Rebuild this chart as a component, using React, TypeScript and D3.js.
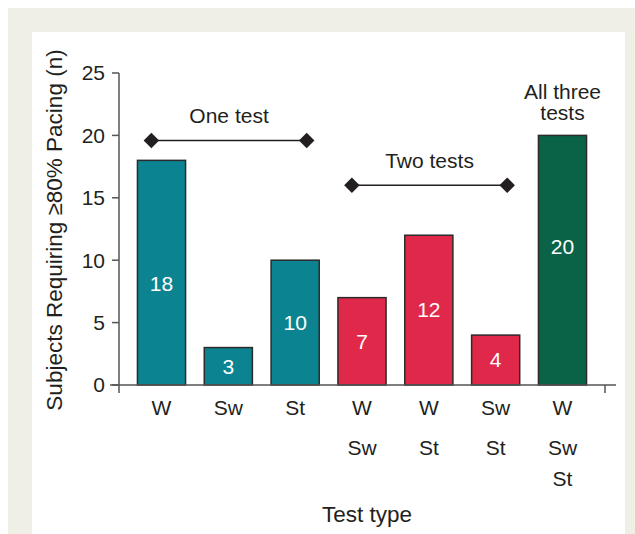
import { useEffect, useRef } from 'react';
import * as d3 from 'd3';

// Test combinations (one line per row of the x tick label)
const categories = ['W', 'Sw', 'St', 'W Sw', 'W St', 'Sw St', 'W Sw St'];
const tickRows = [['W'], ['Sw'], ['St'], ['W', 'Sw'], ['W', 'St'], ['Sw', 'St'], ['W', 'Sw', 'St']];
const subjects = [18, 3, 10, 7, 12, 4, 20];
const groups = ['one', 'one', 'one', 'two', 'two', 'two', 'three'];
// where the count label sits inside each bar (data units)
const labelAt = [8.1, 1.5, 5, 3.5, 6, 2, 11.1];
const yTicks = [0, 5, 10, 15, 20, 25];

const colors: Record<string, string> = {
    one: '#0b8391',
    two: '#e0294a',
    three: '#0b6347',
};

// Group brackets: first / last category and level in data units
const brackets = [
    { label: 'One test', from: 'W', to: 'St', level: 19.6 },
    { label: 'Two tests', from: 'W Sw', to: 'Sw St', level: 16 },
];

export default function App() {
    const svgRef = useRef<SVGSVGElement>(null);

    useEffect(() => {
        if (!svgRef.current) return;
        const width = 635;
        const height = 534;
        const font = "'Liberation Sans', Arial, sans-serif";
        const ink = '#231f20';
        const rowY = [408, 448, 479];

        const svg = d3.select(svgRef.current);
        svg.selectAll('*').remove();
        svg.attr('width', width).attr('height', height);

        // Panel background
        svg.append('rect').attr('x', 8).attr('y', 8).attr('width', width - 8).attr('height', height - 8).attr('fill', '#efefe5');
        svg.append('rect').attr('x', 32).attr('y', 32).attr('width', 593).attr('height', height - 32).attr('fill', '#ffffff');

        const x = d3.scaleBand<string>()
            .domain(categories)
            .range([119, 605])
            .paddingInner(0.28)
            .paddingOuter(0.276);

        const y = d3.scaleLinear().domain([0, 25]).range([385, 73]);

        const g = svg.append('g').attr('font-family', font);

        // Bars
        g.selectAll('rect.bar')
            .data(subjects)
            .enter()
            .append('rect')
            .attr('class', 'bar')
            .attr('x', (_, i) => x(categories[i])!)
            .attr('y', d => y(d))
            .attr('width', x.bandwidth())
            .attr('height', d => y(0) - y(d))
            .attr('fill', (_, i) => colors[groups[i]])
            .attr('stroke', '#2b2b2b')
            .attr('stroke-width', 1.5);

        // Count labels
        g.selectAll('text.count')
            .data(subjects)
            .enter()
            .append('text')
            .attr('class', 'count')
            .attr('x', (_, i) => x(categories[i])! + x.bandwidth() / 2)
            .attr('y', (_, i) => y(labelAt[i]))
            .attr('dy', '0.35em')
            .attr('text-anchor', 'middle')
            .attr('fill', '#ffffff')
            .attr('font-size', '21px')
            .text(d => d);

        // Y axis
        const yAxis = g.append('g');
        yAxis.append('line')
            .attr('x1', 119).attr('x2', 119)
            .attr('y1', y(25)).attr('y2', y(0) + 8)
            .attr('stroke', '#555').attr('stroke-width', 1.5);
        yAxis.selectAll('line.tick')
            .data(yTicks)
            .enter()
            .append('line')
            .attr('x1', 112).attr('x2', 119)
            .attr('y1', d => y(d)).attr('y2', d => y(d))
            .attr('stroke', '#555').attr('stroke-width', 1.5);
        yAxis.selectAll('text')
            .data(yTicks)
            .enter()
            .append('text')
            .attr('x', 105)
            .attr('y', d => y(d))
            .attr('dy', '0.35em')
            .attr('text-anchor', 'end')
            .attr('font-size', '21px')
            .attr('fill', ink)
            .text(d => d);

        // X axis
        g.append('line')
            .attr('x1', 110).attr('x2', 616)
            .attr('y1', y(0)).attr('y2', y(0))
            .attr('stroke', '#555').attr('stroke-width', 1.5);
        g.append('line')
            .attr('x1', 605).attr('x2', 605)
            .attr('y1', y(0)).attr('y2', y(0) + 8)
            .attr('stroke', '#555').attr('stroke-width', 1.5);

        tickRows.forEach((rows, i) => {
            const cx = x(categories[i])! + x.bandwidth() / 2;
            rows.forEach((t, r) => {
                g.append('text')
                    .attr('x', cx)
                    .attr('y', rowY[r])
                    .attr('dy', '0.35em')
                    .attr('text-anchor', 'middle')
                    .attr('font-size', '21px')
                    .attr('fill', ink)
                    .text(t);
            });
        });

        // Brackets
        brackets.forEach(b => {
            const x1 = x(b.from)! + x.bandwidth() * 0.29;
            const x2 = x(b.to)! + x.bandwidth() * 0.74;
            const yy = y(b.level);
            g.append('line')
                .attr('x1', x1).attr('x2', x2)
                .attr('y1', yy).attr('y2', yy)
                .attr('stroke', ink).attr('stroke-width', 1.5);
            [x1, x2].forEach(px => {
                g.append('path')
                    .attr('d', d3.symbol(d3.symbolSquare, 120)())
                    .attr('transform', `translate(${px},${yy}) rotate(45)`)
                    .attr('fill', ink);
            });
            g.append('text')
                .attr('x', (x1 + x2) / 2)
                .attr('y', yy - 25)
                .attr('dy', '0.35em')
                .attr('text-anchor', 'middle')
                .attr('font-size', '21px')
                .attr('fill', ink)
                .text(b.label);
        });

        // "All three tests"
        const cAll = x(categories[6])! + x.bandwidth() / 2;
        ['All three', 'tests'].forEach((t, i) => {
            g.append('text')
                .attr('x', cAll)
                .attr('y', 92 + i * 21)
                .attr('dy', '0.35em')
                .attr('text-anchor', 'middle')
                .attr('font-size', '21px')
                .attr('fill', ink)
                .text(t);
        });

        // Axis titles
        g.append('text')
            .attr('x', 367)
            .attr('y', 514)
            .attr('dy', '0.35em')
            .attr('text-anchor', 'middle')
            .attr('font-size', '22.5px')
            .attr('fill', ink)
            .text('Test type');

        g.append('text')
            .attr('transform', 'translate(54,230) rotate(-90)')
            .attr('dy', '0.35em')
            .attr('text-anchor', 'middle')
            .attr('font-size', '22.5px')
            .attr('fill', ink)
            .text('Subjects Requiring \u226580% Pacing (n)');
    }, []);

    return (
        <div style={{ position: 'absolute', left: 0, top: 0 }}>
            <svg ref={svgRef} style={{ display: 'block' }} />
        </div>
    );
}
